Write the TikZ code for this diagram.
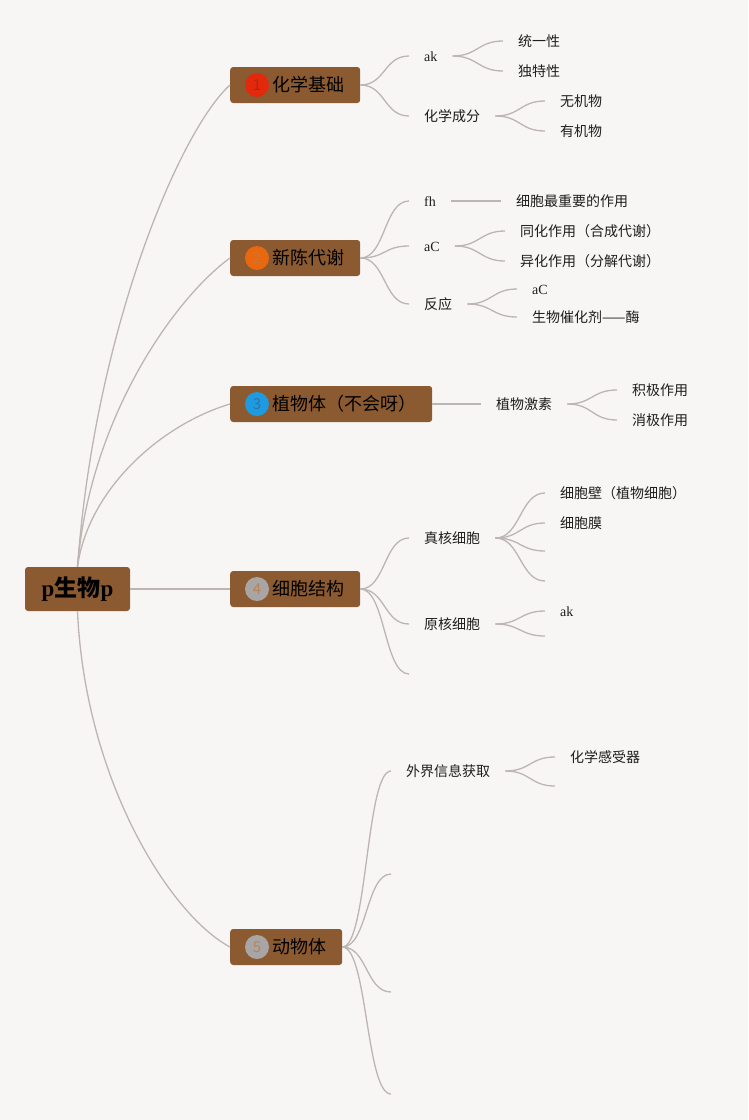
\documentclass[tikz,border=0pt]{standalone}
\usepackage{fontspec}
\setmainfont{Liberation Serif}
\newfontfamily\cjk{Noto Sans CJK SC}
\definecolor{bgcol}{HTML}{F8F6F5}
\definecolor{boxcol}{HTML}{8B5A30}
\definecolor{linecol}{HTML}{BDB5B1}
\definecolor{txtcol}{HTML}{1E1E1E}
\definecolor{dotred}{HTML}{E2290C}	\definecolor{numred}{HTML}{B8240E}
\definecolor{dotorange}{HTML}{E8670F}	\definecolor{numorange}{HTML}{C9773A}
\definecolor{dotblue}{HTML}{1E9BE0}	\definecolor{numblue}{HTML}{2F72A8}
\definecolor{dotgrey}{HTML}{A9A5A4}	\definecolor{numgrey}{HTML}{B7835A}
\tikzset{
	root/.style={fill=boxcol,rounded corners=3pt,minimum width=105pt,minimum height=44pt,inner sep=0pt,text=black,font=\fontsize{23}{23}\selectfont\bfseries},
	topic/.style={fill=boxcol,rounded corners=3pt,inner xsep=16pt,inner ysep=9pt,text height=15.8pt,text depth=2.2pt,text=black,anchor=west,font=\cjk\fontsize{18}{18}\selectfont},
	numdot/.style={circle,minimum size=24pt,inner sep=0pt,font=\cjk\fontsize{15}{15}\selectfont},
	leaf/.style={inner xsep=15pt,inner ysep=0pt,text height=12.3pt,text depth=1.7pt,text=txtcol,anchor=west,font=\cjk\fontsize{14}{14}\selectfont},
	branch/.style={draw=linecol,line width=1.3pt},
	fan/.style={branch,to path={.. controls +(25,0) and +(-25,0) .. (\tikztotarget)}}
}

\begin{document}
\begin{tikzpicture}[x=1pt,y=1pt]
	%background
	\fill[bgcol] (0,0) rectangle (748,-1120);
	\useasboundingbox (0,0) rectangle (748,-1120);
	
	%root and topics
	\node[root] (bio) at (77.5,-589) {p{\cjk 生物}p};
	\node[topic] (chem)  at (230,-85)  {\hspace*{26pt}化学基础};
	\node[topic] (meta)  at (230,-258) {\hspace*{26pt}新陈代谢};
	\node[topic] (plant) at (230,-404) {\hspace*{26pt}植物体（不会呀）};
	\node[topic] (cell)  at (230,-589) {\hspace*{26pt}细胞结构};
	\node[topic] (anim)  at (230,-947) {\hspace*{26pt}动物体};
	
	%number dots
	\node[numdot,fill=dotred,text=numred]       (chemno)  at ([xshift=27pt]chem.west)  {1};
	\node[numdot,fill=dotorange,text=numorange] (metano)  at ([xshift=27pt]meta.west)  {2};
	\node[numdot,fill=dotblue,text=numblue]     (plantno) at ([xshift=27pt]plant.west) {3};
	\node[numdot,fill=dotgrey,text=numgrey]     (cellno)  at ([xshift=27pt]cell.west)  {4};
	\node[numdot,fill=dotgrey,text=numgrey]     (animno)  at ([xshift=27pt]anim.west)  {5};
	
	%root connectors
	\draw[branch] (bio.north) .. controls (95,-330) and (180,-130) .. (chem.west);
	\draw[branch] (bio.north) .. controls (90,-417) and (175,-298) .. (meta.west);
	\draw[branch] (bio.north) .. controls (88,-490) and (160,-425) .. (plant.west);
	\draw[branch] (bio.east) -- (cell.west);
	\draw[branch] (bio.south) .. controls (85,-780) and (170,-915) .. (anim.west);
	
	%chemistry
	\node[leaf] (ak)     at (409,-56)  {\rmfamily ak};
	\node[leaf] (comp)   at (409,-116) {化学成分};
	\node[leaf] (unity)  at (503,-41)  {统一性};
	\node[leaf] (unique) at (503,-71)  {独特性};
	\node[leaf] (inorg)  at (545,-101) {无机物};
	\node[leaf] (org)    at (545,-131) {有机物};
	\draw[fan] (chem.east) to (ak.west);
	\draw[fan] (chem.east) to (comp.west);
	\draw[fan] (ak.east) to (unity.west);
	\draw[fan] (ak.east) to (unique.west);
	\draw[fan] (comp.east) to (inorg.west);
	\draw[fan] (comp.east) to (org.west);
	
	%metabolism
	\node[leaf] (fh)     at (409,-201) {\rmfamily fh};
	\node[leaf] (ac)     at (409,-246) {\rmfamily aC};
	\node[leaf] (react)  at (409,-304) {反应};
	\node[leaf] (key)    at (501,-201) {细胞最重要的作用};
	\node[leaf] (assim)  at (505,-231) {同化作用（合成代谢）};
	\node[leaf] (dissim) at (505,-261) {异化作用（分解代谢）};
	\node[leaf] (acb)    at (517,-289) {\rmfamily aC};
	\node[leaf] (enzyme) at (517,-317) {生物催化剂——酶};
	\draw[fan] (meta.east) to (fh.west);
	\draw[fan] (meta.east) to (ac.west);
	\draw[fan] (meta.east) to (react.west);
	\draw[branch] (fh.east) -- (key.west);
	\draw[fan] (ac.east) to (assim.west);
	\draw[fan] (ac.east) to (dissim.west);
	\draw[fan] (react.east) to (acb.west);
	\draw[fan] (react.east) to (enzyme.west);
	
	%plants
	\node[leaf] (horm) at (481,-404) {植物激素};
	\node[leaf] (pos)  at (617,-390) {积极作用};
	\node[leaf] (neg)  at (617,-420) {消极作用};
	\draw[branch] (plant.east) -- (horm.west);
	\draw[fan] (horm.east) to (pos.west);
	\draw[fan] (horm.east) to (neg.west);
	
	%cell structure
	\node[leaf] (euk)  at (409,-538) {真核细胞};
	\node[leaf] (prok) at (409,-624) {原核细胞};
	\coordinate (cellc) at (409,-674);
	\node[leaf] (wall) at (545,-493) {细胞壁（植物细胞）};
	\node[leaf] (memb) at (545,-523) {细胞膜};
	\coordinate (eukc) at (545,-551);
	\coordinate (eukd) at (545,-581);
	\node[leaf] (akp)  at (545,-611) {\rmfamily ak};
	\coordinate (prokb) at (545,-636);
	\draw[fan] (cell.east) to (euk.west);
	\draw[fan] (cell.east) to (prok.west);
	\draw[fan] (cell.east) to (cellc);
	\draw[fan] (euk.east) to (wall.west);
	\draw[fan] (euk.east) to (memb.west);
	\draw[fan] (euk.east) to (eukc);
	\draw[fan] (euk.east) to (eukd);
	\draw[fan] (prok.east) to (akp.west);
	\draw[fan] (prok.east) to (prokb);
	
	%animals
	\node[leaf] (sense) at (391,-771) {外界信息获取};
	\coordinate (animb) at (391,-874);
	\coordinate (animc) at (391,-992);
	\coordinate (animd) at (391,-1094);
	\node[leaf] (chemo) at (555,-757) {化学感受器};
	\coordinate (senseb) at (555,-786);
	\draw[fan] (anim.east) to (sense.west);
	\draw[fan] (anim.east) to (animb);
	\draw[fan] (anim.east) to (animc);
	\draw[fan] (anim.east) to (animd);
	\draw[fan] (sense.east) to (chemo.west);
	\draw[fan] (sense.east) to (senseb);
	
\end{tikzpicture}
\end{document}
